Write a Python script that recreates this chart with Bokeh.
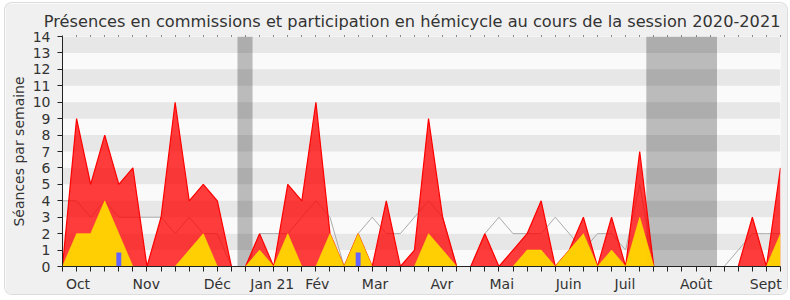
from bokeh.plotting import figure
from bokeh.models import FixedTicker, LinearAxis, Range1d, Title
from bokeh.embed import file_html
from bokeh.resources import INLINE

# ---- data (weekly, session 2020-2021) ----
weeks = list(range(52))
commission = [0, 9, 5, 8, 5, 6, 0, 3, 10, 4, 5, 4, 0, 0, 2, 0, 5, 4, 10, 2,
              0, 2, 0, 4, 0, 1, 9, 3, 0, 0, 2, 0, 1, 2, 4, 0, 1, 3, 0, 3,
              0, 7, 0, 0, 0, 0, 0, 0, 0, 3, 0, 6]
hemicycle = [0, 2, 2, 4, 2, 0, 0, 0, 0, 1, 2, 0, 0, 0, 1, 0, 2, 0, 0, 2,
             0, 2, 0, 0, 0, 0, 2, 1, 0, 0, 0, 0, 0, 1, 1, 0, 1, 2, 0, 1,
             0, 3, 0, 0, 0, 0, 0, 0, 0, 0, 0, 2]
mediane = [4, 4, 3, 4, 3, 3, 3, 3, 2, 3, 2, 2, 0, 0, 2, 2, 2, 3, 4, 3,
           0, 2, 3, 2, 2, 3, 4, 3, 0, 0, 2, 3, 2, 2, 2, 3, 2, 1, 2, 2,
           1, 5, 0, 0, 0, 0, 0, 0, 1, 2, 2, 2]
questions = [0, 0, 0, 0, 0.85, 0, 0, 0, 0, 0, 0, 0, 0, 0, 0, 0, 0, 0, 0, 0,
             0, 0.85, 0, 0, 0, 0, 0, 0, 0, 0, 0, 0, 0, 0, 0, 0, 0, 0, 0, 0,
             0, 0, 0, 0, 0, 0, 0, 0, 0, 0, 0, 0]
vacances_debut = [12.43, 41.47]
vacances_fin = [13.5, 46.49]
month_labels = ["Oct", "Nov", "Déc", "Jan 21", "Fév", "Mar", "Avr", "Mai",
                "Juin", "Juil", "Août", "Sept"]
month_pos = [1.1, 5.95, 11.0, 14.9, 18.1, 22.2, 26.95, 31.2, 35.95, 39.95, 45.0, 49.95]
y_ticks = list(range(15))

FONT = "DejaVu Sans"
TXT = "#333333"

p = figure(width=782, height=291, x_range=Range1d(0, 51), y_range=Range1d(0, 14),
           output_backend="svg", toolbar_location=None,
           min_border_left=57, min_border_right=7, min_border_top=33, min_border_bottom=28,
           margin=(3, 0, 0, 5))
p.styles = {"border-radius": "7px", "overflow": "hidden", "box-shadow": "0 0 0 1px #dcdcdc"}
p.background_fill_color = "#fafafa"
p.border_fill_color = "#f0f0f0"
p.outline_line_color = None
p.xgrid.visible = False
p.ygrid.visible = False

p.title = Title(text="Présences en commissions et participation en hémicycle au cours de la session 2020-2021",
                align="right", text_font=FONT, text_font_size="16.2px", text_font_style="normal",
                text_color=TXT)

# vacation bands
p.quad(left=vacances_debut, right=vacances_fin, bottom=y_ticks[0], top=y_ticks[-1],
       fill_color="#bbbbbb", line_color=None)
# horizontal stripes
stripe_y = [t + 0.5 for t in y_ticks[1:-1:2]]
p.hbar(y=stripe_y, height=1, left=0, right=51, fill_color="black", fill_alpha=0.075, line_color=None)

# median line
p.line(weeks, mediane, line_color="#aaaaaa", line_width=1)
# commission (red)
p.varea(x=weeks, y1=0, y2=commission, fill_color="#ff0000", fill_alpha=0.76)
p.line(weeks, commission, line_color="#ff0000", line_width=1.2)
# hemicycle (yellow)
p.varea(x=weeks, y1=0, y2=hemicycle, fill_color="#ffd700", fill_alpha=0.95)
p.line(weeks, hemicycle, line_color="#ffe000", line_width=1, line_alpha=0.6)
# questions (blue)
p.vbar(x=weeks, top=questions, width=0.35, fill_color="#6363ff", line_color=None)

# y axis
ya = p.yaxis[0]
ya.ticker = FixedTicker(ticks=y_ticks)
ya.axis_label = "Séances par semaine"
ya.axis_label_text_font = FONT
ya.axis_label_text_font_size = "14px"
ya.axis_label_text_font_style = "normal"
ya.axis_label_text_color = TXT
ya.axis_label_standoff = 3
ya.major_label_text_font = FONT
ya.major_label_text_font_size = "14px"
ya.major_label_text_color = TXT
ya.major_tick_out = 5
ya.major_tick_in = 0
ya.major_label_standoff = 7
ya.minor_tick_out = 0
ya.axis_line_color = "#222222"
ya.major_tick_line_color = "#222222"

# x axis
xa = p.xaxis[0]
xa.ticker = FixedTicker(ticks=month_pos, minor_ticks=weeks)
xa.major_label_overrides = {pos: lab for pos, lab in zip(month_pos, month_labels)}
xa.major_label_text_font = FONT
xa.major_label_text_font_size = "14px"
xa.major_label_text_color = TXT
xa.major_tick_out = 0
xa.major_tick_in = 0
xa.minor_tick_out = 5
xa.minor_tick_in = 0
xa.major_label_standoff = 4
xa.axis_line_color = "#222222"
xa.minor_tick_line_color = "#222222"

# top ticks
top = LinearAxis(ticker=FixedTicker(ticks=[], minor_ticks=weeks), axis_line_color=None,
                 major_tick_line_color=None, minor_tick_out=1, minor_tick_in=0,
                 minor_tick_line_color="#222222", major_label_text_alpha=0)
p.add_layout(top, "above")

open("out.html", "w").write(file_html(p, INLINE))
